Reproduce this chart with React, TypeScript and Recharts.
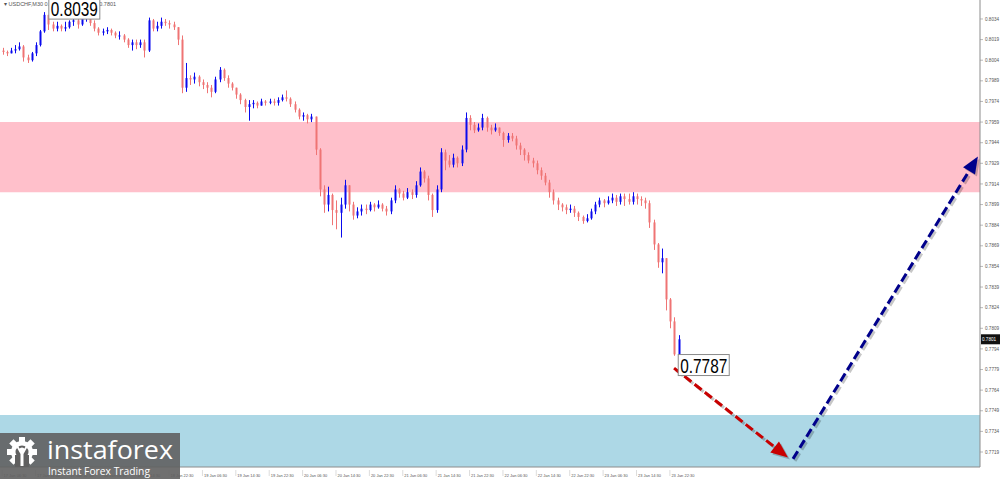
import { ComposedChart, Bar, XAxis, YAxis, ReferenceArea, ReferenceLine, ReferenceDot } from 'recharts';

// USDCHF H1 bars, open = previous close
const firstOpen = 0.8011;
const closes = [
  0.8010, 0.8009, 0.8011, 0.8012, 0.8014, 0.8006, 0.8004, 0.8009, 0.8015, 0.8025,
  0.8037, 0.8030, 0.8027, 0.8029, 0.8027, 0.8028, 0.8032, 0.8033, 0.8030, 0.8034,
  0.8035, 0.8031, 0.8027, 0.8024, 0.8025, 0.8026, 0.8024, 0.8022, 0.8022, 0.8019,
  0.8015, 0.8017, 0.8015, 0.8017, 0.8011, 0.8033, 0.8027, 0.8029, 0.8032, 0.8031,
  0.8030, 0.8028, 0.8019, 0.7984, 0.7991, 0.7990, 0.7992, 0.7988, 0.7986, 0.7984,
  0.7981, 0.7990, 0.7997, 0.7991, 0.7987, 0.7984, 0.7979, 0.7975, 0.7970, 0.7972,
  0.7973, 0.7971, 0.7974, 0.7973, 0.7974, 0.7973, 0.7975, 0.7977, 0.7976, 0.7972,
  0.7968, 0.7963, 0.7964, 0.7961, 0.7963, 0.7939, 0.7910, 0.7899, 0.7906, 0.7895,
  0.7893, 0.7899, 0.7913, 0.7899, 0.7891, 0.7894, 0.7896, 0.7895, 0.7899, 0.7897,
  0.7899, 0.7896, 0.7894, 0.7902, 0.7910, 0.7907, 0.7904, 0.7908, 0.7906, 0.7913,
  0.7923, 0.7918, 0.7906, 0.7895, 0.7910, 0.7937, 0.7931, 0.7928, 0.7933, 0.7929,
  0.7939, 0.7962, 0.7957, 0.7953, 0.7955, 0.7962, 0.7955, 0.7953, 0.7955, 0.7951,
  0.7946, 0.7949, 0.7947, 0.7942, 0.7939, 0.7935, 0.7931, 0.7929, 0.7924, 0.7920,
  0.7915, 0.7908, 0.7902, 0.7899, 0.7897, 0.7895, 0.7896, 0.7893, 0.7890, 0.7887,
  0.7889, 0.7894, 0.7899, 0.7902, 0.7900, 0.7902, 0.7904, 0.7901, 0.7905, 0.7903,
  0.7901, 0.7905, 0.7903, 0.7902, 0.7900, 0.7886, 0.7870, 0.7857, 0.7860, 0.7830,
  0.7814, 0.7790, 0.7801,
];
const highs = [
  0.8013, 0.8011, 0.8013, 0.8015, 0.8017, 0.8015, 0.8008, 0.8010, 0.8017, 0.8026,
  0.8039, 0.8036, 0.8032, 0.8032, 0.8030, 0.8032, 0.8033, 0.8036, 0.8035, 0.8037,
  0.8038, 0.8036, 0.8033, 0.8028, 0.8027, 0.8028, 0.8027, 0.8025, 0.8025, 0.8023,
  0.8020, 0.8019, 0.8019, 0.8019, 0.8019, 0.8035, 0.8034, 0.8032, 0.8035, 0.8034,
  0.8033, 0.8032, 0.8024, 0.8022, 0.8002, 0.7993, 0.7995, 0.7993, 0.7990, 0.7988,
  0.7986, 0.7992, 0.7999, 0.7998, 0.7993, 0.7988, 0.7984, 0.7980, 0.7976, 0.7975,
  0.7975, 0.7974, 0.7976, 0.7975, 0.7976, 0.7976, 0.7977, 0.7979, 0.7982, 0.7977,
  0.7974, 0.7969, 0.7966, 0.7965, 0.7965, 0.7962, 0.7940, 0.7913, 0.7912, 0.7907,
  0.7902, 0.7904, 0.7917, 0.7912, 0.7901, 0.7897, 0.7899, 0.7899, 0.7901, 0.7900,
  0.7902, 0.7900, 0.7898, 0.7904, 0.7913, 0.7911, 0.7909, 0.7911, 0.7910, 0.7916,
  0.7926, 0.7924, 0.7920, 0.7907, 0.7913, 0.7940, 0.7939, 0.7935, 0.7936, 0.7934,
  0.7942, 0.7966, 0.7964, 0.7959, 0.7958, 0.7965, 0.7963, 0.7957, 0.7958, 0.7955,
  0.7952, 0.7951, 0.7951, 0.7949, 0.7944, 0.7940, 0.7937, 0.7933, 0.7931, 0.7926,
  0.7922, 0.7917, 0.7910, 0.7904, 0.7900, 0.7899, 0.7899, 0.7898, 0.7894, 0.7891,
  0.7892, 0.7896, 0.7901, 0.7904, 0.7903, 0.7905, 0.7907, 0.7906, 0.7907, 0.7907,
  0.7907, 0.7908, 0.7907, 0.7905, 0.7904, 0.7902, 0.7888, 0.7871, 0.7867, 0.7855,
  0.7831, 0.7817, 0.7804,
];
const lows = [
  0.8008, 0.8007, 0.8009, 0.8009, 0.8011, 0.8003, 0.8002, 0.8003, 0.8007, 0.8014,
  0.8024, 0.8026, 0.8025, 0.8025, 0.8025, 0.8025, 0.8027, 0.8029, 0.8027, 0.8029,
  0.8032, 0.8029, 0.8025, 0.8022, 0.8022, 0.8023, 0.8022, 0.8020, 0.8019, 0.8017,
  0.8013, 0.8011, 0.8012, 0.8013, 0.8006, 0.8010, 0.8025, 0.8025, 0.8027, 0.8029,
  0.8027, 0.8026, 0.8015, 0.7980, 0.7981, 0.7986, 0.7987, 0.7985, 0.7983, 0.7980,
  0.7977, 0.7980, 0.7988, 0.7989, 0.7984, 0.7982, 0.7976, 0.7972, 0.7966, 0.7960,
  0.7969, 0.7969, 0.7971, 0.7971, 0.7972, 0.7971, 0.7971, 0.7974, 0.7974, 0.7970,
  0.7966, 0.7961, 0.7960, 0.7958, 0.7959, 0.7935, 0.7905, 0.7893, 0.7894, 0.7884,
  0.7881, 0.7875, 0.7896, 0.7894, 0.7888, 0.7889, 0.7891, 0.7892, 0.7894, 0.7894,
  0.7896, 0.7894, 0.7891, 0.7892, 0.7900, 0.7904, 0.7902, 0.7903, 0.7903, 0.7904,
  0.7912, 0.7915, 0.7902, 0.7890, 0.7893, 0.7908, 0.7924, 0.7926, 0.7926, 0.7926,
  0.7927, 0.7937, 0.7953, 0.7951, 0.7952, 0.7953, 0.7952, 0.7950, 0.7952, 0.7949,
  0.7941, 0.7944, 0.7945, 0.7939, 0.7935, 0.7931, 0.7929, 0.7926, 0.7921, 0.7917,
  0.7913, 0.7904, 0.7899, 0.7895, 0.7894, 0.7892, 0.7893, 0.7890, 0.7887, 0.7885,
  0.7886, 0.7888, 0.7892, 0.7897, 0.7897, 0.7899, 0.7900, 0.7898, 0.7899, 0.7898,
  0.7899, 0.7899, 0.7899, 0.7898, 0.7896, 0.7882, 0.7866, 0.7853, 0.7849, 0.7822,
  0.7809, 0.7789, 0.7787,
];

// one label every 8 bars
const timeLabels = [
  '17 Jan 06:30', '17 Jan 14:30', '17 Jan 22:30', '18 Jan 06:30', '18 Jan 14:30',
  '18 Jan 22:30', '19 Jan 06:30', '19 Jan 14:30', '19 Jan 22:30', '20 Jan 06:30',
  '20 Jan 14:30', '20 Jan 22:30', '21 Jan 06:30', '21 Jan 14:30', '21 Jan 22:30',
  '22 Jan 06:30', '22 Jan 14:30', '22 Jan 22:30', '23 Jan 06:30', '23 Jan 14:30',
  '23 Jan 22:30',
];
const priceTicks = [
  0.8034, 0.8019, 0.8004, 0.7989, 0.7974, 0.7959, 0.7944, 0.7929, 0.7914, 0.7899, 0.7884,
  0.7869, 0.7854, 0.7839, 0.7824, 0.7809, 0.7794, 0.7779, 0.7764, 0.7749, 0.7734, 0.7719,
];

// zones and forecast
const sellZone = [0.7908, 0.7959];
const buyZone = [0.7700, 0.7746];
const downLeg = [{ x: 161, y: 0.7780 }, { x: 188.3, y: 0.7715 }];
const upLeg = [{ x: 189.5, y: 0.7714 }, { x: 233.8, y: 0.7934 }];

const BULL = '#0a0aee';
const BEAR = '#ef7474';
const AXIS = '#8c8c8c';
const TXT = '#555';
const FONT = "'Liberation Sans', Arial";

const candles = closes.map((c, i) => {
  const o = i === 0 ? firstOpen : closes[i - 1];
  const h = Math.max(highs[i], o, c);
  const l = Math.min(lows[i], o, c);
  return { i, open: o, close: c, high: h, low: l, range: [l, h] };
});

let peak = candles[0];
let trough = candles[0];
candles.forEach(c => {
  if (c.high > peak.high) peak = c;
  if (c.low < trough.low) trough = c;
});
const last = candles[candles.length - 1];

function Candle(props: any) {
  const { x, y, width, height, payload } = props;
  if (!payload) return null;
  const { open, close, high, low } = payload;
  const top = Math.min(y, y + height);
  const h = Math.abs(height);
  const cx = Math.round(x + width / 2) + 0.5;
  const span = high - low || 1e-9;
  const py = (v: number) => top + ((high - v) / span) * h;
  const color = close >= open ? BULL : BEAR;
  const b1 = py(Math.max(open, close));
  const b2 = py(Math.min(open, close));
  return (
    <g>
      <line x1={cx} x2={cx} y1={top} y2={top + Math.max(h, 1)} stroke={color} strokeWidth={1} />
      <rect x={cx - 1} y={b1} width={2} height={Math.max(b2 - b1, 1)} fill={color} />
    </g>
  );
}

function makeArrow(color: string) {
  return (p: any) => {
    const { x1, y1, x2, y2 } = p;
    const dx = x2 - x1;
    const dy = y2 - y1;
    const len = Math.hypot(dx, dy) || 1;
    const ux = dx / len;
    const uy = dy / len;
    const head = 17;
    const half = 7;
    const bx = x2 - ux * head;
    const by = y2 - uy * head;
    const nx = -uy;
    const ny = ux;
    const pts = (o: number) =>
      `${x2 + o},${y2 + o} ${bx + nx * half + o},${by + ny * half + o} ${bx - nx * half + o},${by - ny * half + o}`;
    return (
      <g>
        <line x1={x1 + 2} y1={y1 + 2} x2={bx + 2} y2={by + 2} stroke="rgba(0,0,0,0.22)" strokeWidth={3} strokeDasharray="9 4" />
        <polygon points={pts(2)} fill="rgba(0,0,0,0.22)" />
        <line x1={x1} y1={y1} x2={bx} y2={by} stroke={color} strokeWidth={3} strokeDasharray="9 4" />
        <polygon points={pts(0)} fill={color} />
      </g>
    );
  };
}

function PriceBox({ cx, cy, dx, dy, text }: any) {
  return (
    <g>
      <rect x={cx + dx} y={cy + dy} width={51} height={21} fill="#fff" stroke="#8a8a8a" strokeWidth={1} />
      <text
        x={cx + dx + 2}
        y={cy + dy + 18}
        fontSize={21}
        fontFamily={FONT}
        fill="#000"
        textLength={47}
        lengthAdjust="spacingAndGlyphs"
      >
        {text}
      </text>
    </g>
  );
}

function TimeTick({ x, y, payload }: any) {
  const label = timeLabels[Math.round(payload.value / 8)];
  return (
    <g>
      <line x1={x} x2={x} y1={y + 1} y2={y + 7} stroke="#bbb" strokeWidth={0.5} />
      <text x={x + 1.5} y={y + 7.5} fontSize={4.4} fontFamily={FONT} fill={TXT} textLength={23} lengthAdjust="spacingAndGlyphs">
        {label}
      </text>
    </g>
  );
}

function PriceTick({ y, payload }: any) {
  return (
    <g>
      <line x1={980} x2={983} y1={y} y2={y} stroke={AXIS} strokeWidth={0.6} />
      <text x={985} y={y + 1.6} fontSize={4.6} fontFamily={FONT} fill={TXT}>
        {payload.value.toFixed(4)}
      </text>
    </g>
  );
}

function LastTag({ cx, cy }: any) {
  return (
    <g>
      <rect x={cx + 1} y={cy - 5} width={19} height={10} fill="#111" />
      <text x={cx + 2} y={cy + 1.6} fontSize={4.6} fontFamily={FONT} fill="#fff">
        {last.close.toFixed(4)}
      </text>
    </g>
  );
}

export default function App() {
  return (
    <div style={{ position: 'absolute', left: 0, top: 0, width: 1000, height: 479, background: '#fff', overflow: 'hidden' }}>
      <div
        style={{
          position: 'absolute', left: 4, top: 1, fontSize: 5.5, color: TXT,
          fontFamily: FONT, whiteSpace: 'nowrap',
        }}
      >
        ▾ USDCHF,M30 0.7797 0.7811 0.7787 0.7801
      </div>
      <div style={{ position: 'absolute', left: 0, top: 0 }}>
        <ComposedChart width={1000} height={479} data={candles} margin={{ top: 0, right: 0, bottom: 0, left: 0 }}>
          <ReferenceArea y1={sellZone[0]} y2={sellZone[1]} fill="#ffc0cb" fillOpacity={1} stroke="none" ifOverflow="hidden" />
          <ReferenceArea y1={buyZone[0]} y2={buyZone[1]} fill="#add8e6" fillOpacity={1} stroke="none" ifOverflow="hidden" />
          <XAxis
            dataKey="i"
            type="number"
            domain={[-0.5, 234.3]}
            allowDataOverflow
            ticks={timeLabels.map((_, k) => k * 8)}
            interval={0}
            tick={<TimeTick />}
            tickLine={false}
            tickSize={0}
            height={12}
            axisLine={{ stroke: AXIS }}
          />
          <YAxis
            orientation="right"
            type="number"
            domain={[0.77081, 0.80478]}
            allowDataOverflow
            ticks={priceTicks}
            interval={0}
            tick={<PriceTick />}
            tickLine={false}
            tickSize={0}
            width={20}
            axisLine={{ stroke: AXIS }}
          />
          <Bar dataKey="range" barSize={3} isAnimationActive={false} shape={(p: any) => <Candle {...p} />} />
          <ReferenceLine segment={downLeg} stroke="#c80000" shape={makeArrow('#c80000')} ifOverflow="visible" />
          <ReferenceLine segment={upLeg} stroke="#000080" shape={makeArrow('#00008b')} ifOverflow="visible" />
          <ReferenceDot
            x={peak.i}
            y={peak.high}
            ifOverflow="visible"
            shape={(p: any) => <PriceBox {...p} dx={5} dy={-14} text={peak.high.toFixed(4)} />}
          />
          <ReferenceDot
            x={trough.i}
            y={trough.low}
            ifOverflow="visible"
            shape={(p: any) => <PriceBox {...p} dx={0} dy={-4} text={trough.low.toFixed(4)} />}
          />
          <ReferenceDot x={234.3} y={last.close} ifOverflow="visible" shape={(p: any) => <LastTag {...p} />} />
        </ComposedChart>
      </div>
      <div
        style={{
          position: 'absolute', left: 0, top: 433, width: 180, height: 46,
          background: 'rgba(96,96,96,0.9)',
        }}
      >
        <svg width={180} height={46} style={{ overflow: 'visible' }}>
          <g transform="translate(22,19)" fill="#fff">
            {[0, 45, 90, 135, 180, 225, 270, 315].map(a => (
              <rect key={a} x={-3} y={-15} width={6} height={6} transform={`rotate(${a})`} />
            ))}
            <circle r={11} />
            <circle r={6.5} fill="#606060" />
            <rect x={-7} y={3} width={14} height={12} fill="#606060" />
            <circle cx={0} cy={-2} r={2.6} />
            <path d="M-6,-6 L-1.5,2 L-1.5,14 L1.5,14 L1.5,2 L6,-6 L4,-6 L0,0 L-4,-6 Z" />
          </g>
          <text x={47} y={26} fontSize={26} fontFamily="'Open Sans', sans-serif" fill="#fff" textLength={126} lengthAdjust="spacingAndGlyphs">
            instaforex
          </text>
          <text x={48} y={42} fontSize={10.5} fontFamily="'Open Sans', sans-serif" fill="#fff" textLength={102} lengthAdjust="spacingAndGlyphs">
            Instant Forex Trading
          </text>
        </svg>
      </div>
    </div>
  );
}
